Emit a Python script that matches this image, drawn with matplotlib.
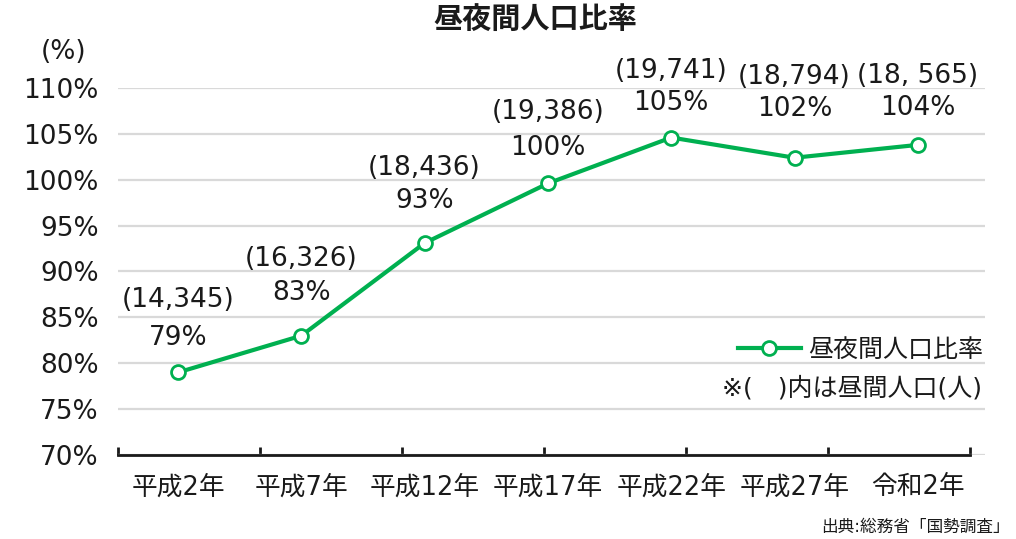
import matplotlib.pyplot as plt
import numpy as np

plt.rcParams['font.family'] = ['DejaVu Sans', 'Noto Sans CJK JP']

years = ['平成2年', '平成7年', '平成12年', '平成17年', '平成22年', '平成27年', '令和2年']
ratio = [79.0, 83.0, 93.1, 99.6, 104.6, 102.4, 103.8]
ratio_labels = ['79%', '83%', '93%', '100%', '105%', '102%', '104%']
day_pop_labels = ['(14,345)', '(16,326)', '(18,436)', '(19,386)', '(19,741)', '(18,794)', '(18, 565)']
# label offsets above the point, in pixels (percent line, population line)
label_offsets = [(34, 72), (43, 77), (42, 75), (35, 71), (35, 67), (49, 81), (37, 69)]
yticks = [70, 75, 80, 85, 90, 95, 100, 105, 110]

green = '#00B050'
txt = '#1a1a1a'
W, H = 1016, 539

fig = plt.figure(figsize=(W / 100, H / 100), dpi=100)
ax = fig.add_axes([118 / W, (H - 455) / H, 867 / W, 367 / H])

x = np.arange(len(years))
ax.plot(x, ratio, color=green, lw=3, marker='o', ms=10, mfc='white', mec=green, mew=2,
        label='昼夜間人口比率', zorder=3, clip_on=False)

xmin, xmax = -0.4866, 6.545
ax.set_xlim(xmin, xmax)
ax.set_ylim(70, 110)

pt = 72 / 100  # points per pixel
for i in range(len(years)):
    dy1, dy2 = label_offsets[i]
    ax.annotate(ratio_labels[i], (x[i], ratio[i]), xytext=(0, dy1 * pt), textcoords='offset points',
                ha='center', va='center', fontsize=19, color=txt)
    ax.annotate(day_pop_labels[i], (x[i], ratio[i]), xytext=(0, dy2 * pt), textcoords='offset points',
                ha='center', va='center', fontsize=19, color=txt)

# y axis
ax.set_yticks(yticks)
ax.set_yticklabels([f'{v}%' for v in yticks], fontsize=19, color=txt)
ax.tick_params(axis='y', length=0, pad=14)
ax.yaxis.grid(True, color='#d9d9d9', lw=1.6)
ax.set_axisbelow(True)

# x axis: labels under points, ticks evenly along the axis line
axis_end = (970 - 178) / 123.33
ax.set_xticks(np.linspace(xmin, axis_end, 7))
ax.set_xticklabels([])
ax.tick_params(axis='x', which='major', direction='in', length=6, width=2, color=txt)
ax.set_xticks(x, minor=True)
ax.set_xticklabels(years, minor=True, fontsize=18.5, color=txt)
ax.tick_params(axis='x', which='minor', length=0, pad=14)

for s in ['top', 'right', 'left']:
    ax.spines[s].set_visible(False)
ax.spines['bottom'].set_bounds(xmin, axis_end)
ax.spines['bottom'].set_linewidth(2)
ax.spines['bottom'].set_color(txt)
ax.spines['bottom'].set_zorder(4)

leg = ax.legend(loc='center left', bbox_to_anchor=(738 / W, 1 - 350 / H), bbox_transform=fig.transFigure,
                frameon=False, fontsize=18, handlelength=2.5, handletextpad=0.3, borderpad=0,
                borderaxespad=0)
for t in leg.get_texts():
    t.set_color(txt)
fig.text(722 / W, 1 - 388 / H, '※(\u3000)内は昼間人口(人)', fontsize=18, ha='left', va='center',
         color=txt)

fig.text(64 / W, 1 - 52 / H, '(%)', fontsize=19, ha='center', va='center', color=txt)
fig.text(535 / W, 1 - 20 / H, '昼夜間人口比率', fontsize=21, fontweight='bold', ha='center', va='center',
         color=txt)
fig.text(1010 / W, 1 - 527 / H, '出典:総務省「国勢調査」', fontsize=12, ha='right', va='center',
         color=txt)

fig.savefig('out.png', dpi=100, facecolor='white')
